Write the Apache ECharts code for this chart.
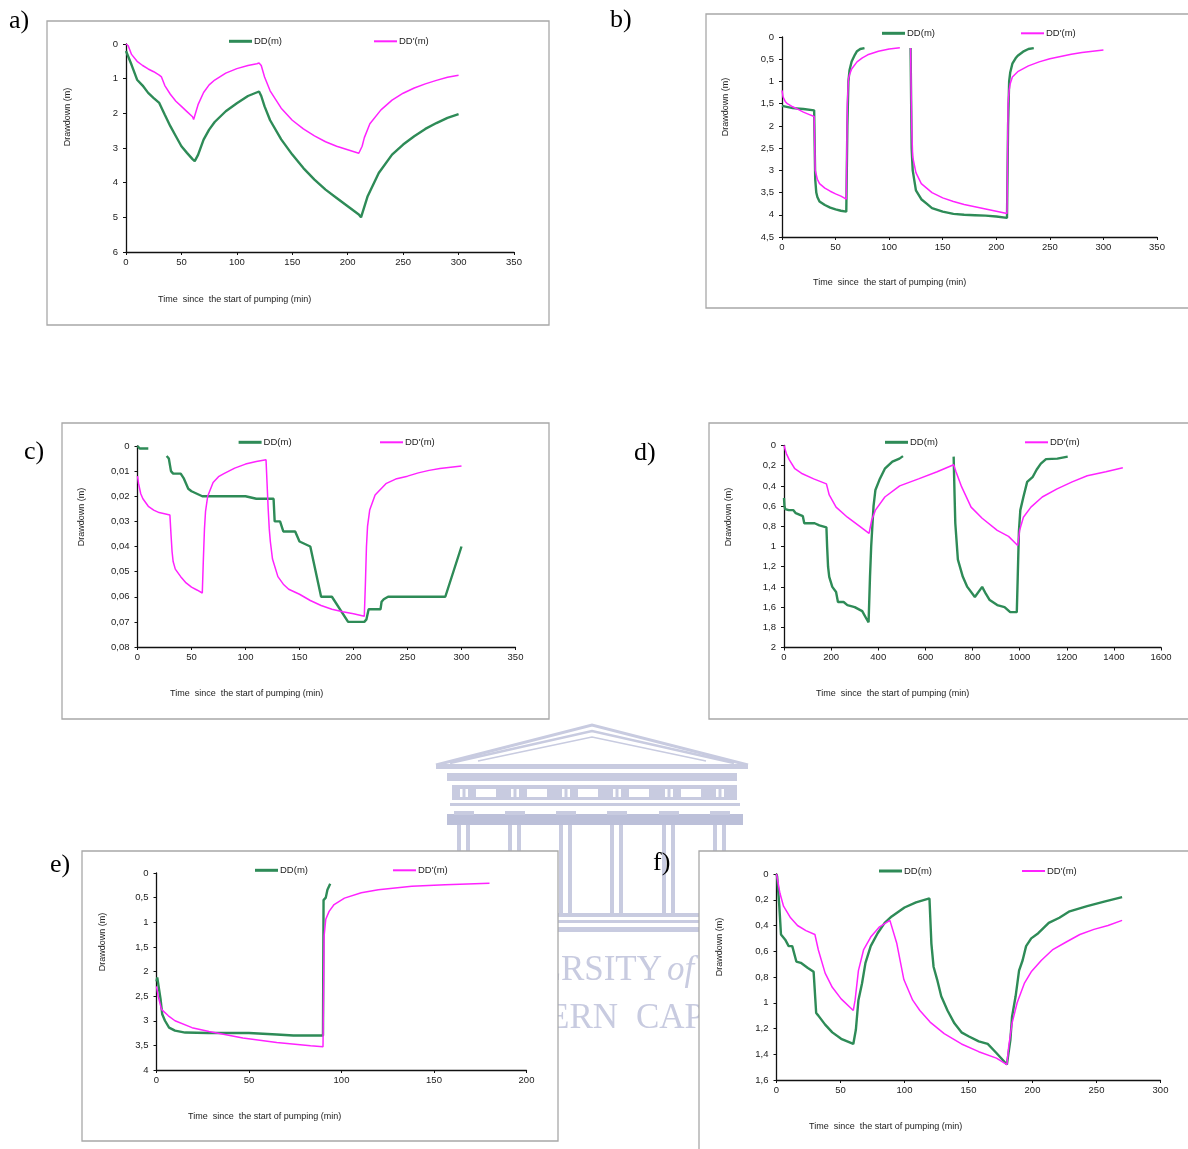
<!DOCTYPE html>
<html><head><meta charset="utf-8">
<script src="https://cdn.jsdelivr.net/npm/echarts@6/dist/echarts.min.js"></script>
<style>html,body{margin:0;padding:0;background:#fff}#c{width:1188px;height:1149px}</style>
</head><body><div id="c"></div><script>
// ---------- DATA ----------
const seriesNames = ['DD(m)', "DD'(m)"];
const yTitle = 'Drawdown (m)';
const xTitle = 'Time  since  the start of pumping (min)';
const panelLabels = ['a)', 'b)', 'c)', 'd)', 'e)', 'f)'];

// a)
const aTimeDD = [0,5,10,15,20,25,30,35,40,45,50,55,60,62,65,70,75,80,90,100,110,120,122,125,130,140,150,160,170,180,190,200,210,212,218,228,240,250,260,270,280,290,300];
const aDD     = [0.2,0.6,1.03,1.2,1.41,1.56,1.7,2.04,2.37,2.66,2.95,3.14,3.32,3.38,3.2,2.76,2.47,2.25,1.94,1.71,1.5,1.37,1.5,1.8,2.2,2.75,3.19,3.58,3.91,4.2,4.44,4.68,4.92,5.0,4.39,3.72,3.19,2.9,2.66,2.45,2.28,2.13,2.02];
const aTimeDDp = [0,2,5,10,15,20,25,30,32,35,40,45,50,55,60,61,65,70,75,80,90,100,110,118,120,122,125,130,140,150,160,170,180,190,200,210,211,213,215,220,230,240,250,260,270,280,290,300];
const aDDp     = [0,0.05,0.3,0.5,0.62,0.72,0.8,0.9,0.95,1.2,1.45,1.65,1.8,1.95,2.1,2.18,1.75,1.4,1.18,1.04,0.84,0.71,0.62,0.57,0.55,0.62,0.95,1.35,1.85,2.2,2.45,2.65,2.82,2.95,3.05,3.15,3.17,2.95,2.7,2.3,1.9,1.62,1.42,1.27,1.15,1.05,0.96,0.9];

// b)
const bTimeDD = [0,1,10,20,30,31,32,33,35,40,45,50,55,60,61,62,63,65,68,70,73,77,99,120,121,122,125,130,135,140,150,160,170,180,190,200,210,211,212,213,215,218,220,225,230,235];
const bDD     = [1.55,1.57,1.6,1.62,1.65,3.2,3.5,3.6,3.7,3.78,3.84,3.88,3.91,3.93,2.0,1.0,0.75,0.55,0.4,0.32,0.27,0.25,null,0.25,2.5,3.0,3.45,3.65,3.75,3.85,3.93,3.98,4.0,4.01,4.02,4.04,4.07,2.0,1.0,0.8,0.6,0.48,0.42,0.33,0.27,0.25];
const bTimeDDp = [0,1,3,5,10,15,20,25,30,31,33,35,40,45,50,55,60,61,62,63,65,70,75,80,90,100,110,115,120,121,122,125,130,140,150,160,170,180,190,200,210,211,212,213,215,220,230,240,250,260,270,280,290,300];
const bDDp     = [1.2,1.35,1.45,1.5,1.57,1.63,1.69,1.74,1.79,3.0,3.2,3.3,3.4,3.47,3.53,3.58,3.65,1.5,0.95,0.85,0.72,0.56,0.47,0.4,0.32,0.27,0.24,null,0.25,2.0,2.7,3.05,3.3,3.5,3.62,3.7,3.77,3.82,3.87,3.92,3.97,1.5,1.2,1.05,0.9,0.78,0.65,0.56,0.49,0.44,0.39,0.35,0.32,0.29];

// c)
const cTimeDD = [0,2,10,18,27,29,30,31,33,40,43,45,47,50,55,60,100,110,126,127,132,135,146,150,160,170,180,195,210,212,214,225,226,228,232,285,300];
const cDD     = [0,0.001,0.001,null,0.004,0.005,0.005,0.01,0.011,0.011,0.013,0.015,0.017,0.018,0.019,0.02,0.02,0.021,0.021,0.03,0.03,0.034,0.034,0.038,0.04,0.06,0.06,0.07,0.07,0.069,0.065,0.065,0.062,0.061,0.06,0.06,0.04];
const cTimeDDp = [0,1,3,5,10,15,20,25,30,31,32,33,35,40,45,50,55,60,61,62,63,65,70,75,80,90,100,110,119,120,121,122,123,125,130,135,140,150,160,170,180,190,200,210,211,212,213,215,220,230,240,250,260,270,280,290,300];
const cDDp     = [0.012,0.015,0.019,0.021,0.024,0.0255,0.0265,0.027,0.0275,0.035,0.042,0.046,0.049,0.052,0.0545,0.0562,0.0573,0.0585,0.045,0.033,0.026,0.02,0.0145,0.0122,0.011,0.0088,0.0072,0.0062,0.0055,0.005,0.025,0.033,0.038,0.045,0.052,0.055,0.057,0.059,0.0615,0.0635,0.065,0.066,0.0668,0.0678,0.055,0.04,0.032,0.0255,0.0195,0.015,0.013,0.012,0.0107,0.0097,0.009,0.0085,0.008];

// d)
const dTimeDD = [0,2,5,20,40,50,70,80,86,90,130,150,180,183,187,192,205,221,229,253,269,300,332,351,359,365,370,375,380,388,405,428,460,490,505,600,720,724,727,738,759,778,810,841,857,873,905,936,960,988,992,997,1003,1016,1032,1056,1072,1090,1112,1160,1204];
const dDD     = [0.52,0.6,0.63,0.64,0.64,0.67,0.69,0.7,0.77,0.77,0.77,0.79,0.81,1.0,1.2,1.3,1.4,1.45,1.55,1.55,1.58,1.6,1.64,1.72,1.75,1.3,1.0,0.8,0.6,0.44,0.34,0.23,0.16,0.13,0.105,null,0.11,0.5,0.77,1.13,1.3,1.4,1.5,1.4,1.47,1.53,1.58,1.6,1.65,1.65,1.3,0.85,0.64,0.51,0.36,0.31,0.24,0.18,0.135,0.13,0.11];
const dTimeDDp = [0,10,22,46,78,126,180,192,221,269,316,361,372,388,428,491,571,650,720,730,754,794,841,905,953,992,1000,1016,1048,1096,1159,1223,1287,1366,1438];
const dDDp     = [0,0.08,0.14,0.23,0.28,0.33,0.38,0.49,0.61,0.71,0.79,0.87,0.74,0.64,0.51,0.4,0.33,0.26,0.19,0.26,0.41,0.61,0.72,0.84,0.9,0.99,0.84,0.71,0.61,0.51,0.43,0.36,0.3,0.26,0.22];

// e)
const eTimeDD = [0,0.4,1.3,2.2,3.1,4.6,6.8,10,15.5,28,50,65,74,90,90.3,91.5,92.4,93.9];
const eDD     = [2.2,2.12,2.12,2.56,2.87,3.0,3.14,3.2,3.24,3.25,3.25,3.28,3.3,3.3,0.55,0.5,0.34,0.22];
const eTimeDDp = [0,0.9,2.7,6.4,10,19.2,28.4,46.7,65,83.3,90,90.6,91.5,93.3,96,101.6,110.7,119.9,138,156,180];
const eDDp     = [2.3,2.5,2.77,2.9,3.0,3.14,3.22,3.35,3.44,3.51,3.53,1.28,0.94,0.78,0.64,0.51,0.4,0.34,0.27,0.24,0.21];

// f)
const fTimeDD = [0,0.5,2.2,3.5,6.8,9.5,12.3,15.5,19,24.5,29,31,32.7,38,43.6,50.5,60,62,64,66.8,69.5,73.6,79,84.5,90,100,109,119.5,121,122.7,125.5,128.7,133.6,139,144.5,150,158,165,171.8,180,182.7,184,186.8,189.5,192.3,195,199,204.5,212.7,221,229,242.7,256,270];
const fDD     = [0,0.02,0.25,0.47,0.51,0.56,0.56,0.68,0.69,0.73,0.76,1.08,1.1,1.17,1.23,1.28,1.32,1.21,0.98,0.85,0.69,0.56,0.46,0.38,0.33,0.26,0.22,0.19,0.54,0.72,0.82,0.95,1.06,1.16,1.23,1.26,1.3,1.32,1.39,1.48,1.29,1.11,0.95,0.75,0.67,0.56,0.5,0.46,0.38,0.34,0.29,0.25,0.215,0.18];
const fTimeDDp = [0,0.5,2.7,5.5,11,16.4,23,30,32.7,38,43.6,50.5,60,61.4,64,68,73.6,80.5,88.6,90,94,99.5,106.4,112,120,131,144.5,158,171.8,180,181.4,184,188,193.6,199,207,215.5,226,237,248,259,270];
const fDDp     = [0,0.01,0.15,0.25,0.34,0.4,0.44,0.47,0.59,0.77,0.88,0.97,1.06,0.98,0.75,0.59,0.49,0.41,0.36,0.35,0.54,0.82,0.98,1.06,1.15,1.24,1.32,1.38,1.43,1.48,1.34,1.16,1.0,0.85,0.76,0.67,0.59,0.53,0.47,0.43,0.4,0.36];

// axis scales (min 0, max, interval)
const xScales = [[350,50],[350,50],[350,50],[1600,200],[200,50],[300,50]];
const yScales = [[6,1],[4.5,0.5],[0.08,0.01],[2,0.2],[4,0.5],[1.6,0.2]];

const panelData = [
  [aTimeDD,aDD,aTimeDDp,aDDp],[bTimeDD,bDD,bTimeDDp,bDDp],[cTimeDD,cDD,cTimeDDp,cDDp],
  [dTimeDD,dDD,dTimeDDp,dDDp],[eTimeDD,eDD,eTimeDDp,eDDp],[fTimeDD,fDD,fTimeDDp,fDDp]
];

// ---------- LAYOUT (positions/styles) ----------
const layout = [
  {grid:[126,44,388,208],   box:[47,21,502,304],   lab:[9,8],     legG:[229,42.3], legM:[374,42.3], yt:[68,117],  xt:[158,300]},
  {grid:[782,37,375,200],   box:[706,14,500,294],  lab:[610,7],   legG:[882,34.3], legM:[1021,34.3], yt:[726,107], xt:[813,283]},
  {grid:[137.5,446,378,201],box:[62,423,487,296],  lab:[24,439],  legG:[238.6,443.3], legM:[380,443.3], yt:[82,517], xt:[170,694]},
  {grid:[784,445.5,377,202],box:[709,423,500,296], lab:[634,440], legG:[885,443.3], legM:[1025,443.3], yt:[729,517], xt:[816,694]},
  {grid:[156.5,873,370,197],box:[82,851,476,290],  lab:[50,852],  legG:[255,871.3], legM:[393,871.3], yt:[102.5,942], xt:[188,1117]},
  {grid:[776.5,874,384,206],box:[699,851,520,320], lab:[653,850], legG:[879,872], legM:[1022,872], yt:[720,947], xt:[809,1127]}
];

const GREEN = '#2e8b57', MAGENTA = '#ff22ff', AX = '#111', TXT = '#222';
const SANS = '"Liberation Sans", Arial, sans-serif';
const SERIF = '"Liberation Serif", "Times New Roman", serif';

function pts(t, v) { return t.map((x, i) => [x, v[i] === null ? '-' : v[i]]); }
function comma(v) { return String(+(+v).toFixed(4)).replace('.', ','); }
function plain(v) { return String(+(+v).toFixed(4)); }

const grids = [], xAxes = [], yAxes = [], series = [], legends = [], graphics = [];

// watermark (background building + text)
const WM = '#c8cbe0', WM2 = '#bcc0d9';
graphics.push(
  {type:'polyline', z:-100, shape:{points:[[436,765],[592,725],[748,765]]}, style:{stroke:WM, lineWidth:3, fill:null}},
  {type:'polyline', z:-100, shape:{points:[[450,763],[592,731],[734,763]]}, style:{stroke:WM, lineWidth:2.5, fill:null}},
  {type:'polyline', z:-100, shape:{points:[[478,761],[592,737],[706,761]]}, style:{stroke:WM, lineWidth:1.5, fill:null}},
  {type:'rect', z:-100, shape:{x:436,y:764,width:312,height:5}, style:{fill:WM}},
  {type:'rect', z:-100, shape:{x:447,y:773,width:290,height:8}, style:{fill:WM}},
  {type:'rect', z:-100, shape:{x:452,y:785,width:285,height:15}, style:{fill:WM}},
  {type:'rect', z:-100, shape:{x:450,y:803,width:290,height:3}, style:{fill:WM}},
  {type:'rect', z:-100, shape:{x:447,y:814,width:296,height:11}, style:{fill:WM2}},
  {type:'rect', z:-100, shape:{x:445,y:913,width:300,height:4}, style:{fill:WM}},
  {type:'rect', z:-100, shape:{x:440,y:920,width:310,height:3}, style:{fill:WM}},
  {type:'rect', z:-100, shape:{x:436,y:927,width:318,height:5}, style:{fill:WM}}
);
[457,508,559,610,662,713].forEach(function (cx, k) {
  graphics.push({type:'rect', z:-99, shape:{x:cx+3,y:789,width:2.5,height:8}, style:{fill:'#fff'}});
  graphics.push({type:'rect', z:-99, shape:{x:cx+8.5,y:789,width:2.5,height:8}, style:{fill:'#fff'}});
  if (k < 5) graphics.push({type:'rect', z:-99, shape:{x:cx+19,y:789,width:20,height:8}, style:{fill:'#fff'}});
  graphics.push({type:'rect', z:-100, shape:{x:cx-3,y:811,width:20,height:4}, style:{fill:WM}});
  graphics.push({type:'rect', z:-100, shape:{x:cx,y:825,width:4,height:88}, style:{fill:WM}});
  graphics.push({type:'rect', z:-100, shape:{x:cx+9,y:825,width:4,height:88}, style:{fill:WM}});
});
graphics.push(
  {type:'text', z:-100, x:662, y:971, style:{text:'UNIVERSITY', font:'35px ' + SERIF, fill:WM, align:'right', verticalAlign:'middle'}},
  {type:'text', z:-100, x:667, y:971, style:{text:'of the', font:'italic 35px ' + SERIF, fill:WM, align:'left', verticalAlign:'middle'}},
  {type:'text', z:-100, x:618, y:1019, style:{text:'WESTERN', font:'35px ' + SERIF, fill:WM, align:'right', verticalAlign:'middle'}},
  {type:'text', z:-100, x:636, y:1019, style:{text:'CAPE', font:'35px ' + SERIF, fill:WM, align:'left', verticalAlign:'middle'}}
);

layout.forEach(function (L, i) {
  const [t1, v1, t2, v2] = panelData[i];
  grids.push({left:L.grid[0], top:L.grid[1], width:L.grid[2], height:L.grid[3], containLabel:false});
  xAxes.push({
    type:'value', gridIndex:i, min:0, max:xScales[i][0], interval:xScales[i][1],
    axisLine:{onZero:false, lineStyle:{color:AX, width:1.3}},
    axisTick:{show:true, length:3, lineStyle:{color:AX, width:1}},
    axisLabel:{fontSize:9.5, color:TXT, margin:5, fontFamily:SANS, formatter:plain},
    splitLine:{show:false}
  });
  yAxes.push({
    type:'value', gridIndex:i, min:0, max:yScales[i][0], interval:yScales[i][1], inverse:true,
    axisLine:{show:true, onZero:false, lineStyle:{color:AX, width:1.3}},
    axisTick:{show:true, length:3, lineStyle:{color:AX, width:1}},
    axisLabel:{fontSize:9.5, color:TXT, margin:8, fontFamily:SANS, formatter:comma},
    splitLine:{show:false}
  });
  series.push({type:'line', name:seriesNames[0], xAxisIndex:i, yAxisIndex:i, data:pts(t1, v1),
    showSymbol:false, symbol:'none', connectNulls:false, animation:false, z:2,
    lineStyle:{color:GREEN, width:2.4}, itemStyle:{color:GREEN}});
  series.push({type:'line', name:seriesNames[1], xAxisIndex:i, yAxisIndex:i, data:pts(t2, v2),
    showSymbol:false, symbol:'none', connectNulls:false, animation:false, z:3,
    lineStyle:{color:MAGENTA, width:1.5}, itemStyle:{color:MAGENTA}});
  [[seriesNames[0], L.legG, 3], [seriesNames[1], L.legM, 2]].forEach(function (it) {
    legends.push({data:[it[0]], left:it[1][0], top:it[1][1] - 6, padding:0, icon:'rect',
      itemWidth:23, itemHeight:it[2], itemGap:0, selectedMode:false,
      textStyle:{fontSize:9.5, color:TXT, fontFamily:SANS, padding:[0,0,0,-3]}});
  });
  // panel box
  graphics.push({type:'rect', z:-50, shape:{x:L.box[0], y:L.box[1], width:L.box[2], height:L.box[3]},
    style:{fill:'#fff', stroke:'#a8a8a8', lineWidth:1.3}});
  // panel label
  graphics.push({type:'text', z:10, x:L.lab[0], y:L.lab[1],
    style:{text:panelLabels[i], font:'26px ' + SERIF, fill:'#000', align:'left', verticalAlign:'top'}});
  // axis titles
  graphics.push({type:'text', z:10, x:L.yt[0], y:L.yt[1], rotation:Math.PI / 2,
    style:{text:yTitle, font:'9px ' + SANS, fill:TXT, align:'center', verticalAlign:'middle'}});
  graphics.push({type:'text', z:10, x:L.xt[0], y:L.xt[1],
    style:{text:xTitle, font:'9px ' + SANS, fill:TXT, align:'left', verticalAlign:'middle'}});
});

const chart = echarts.init(document.getElementById('c'), null, {renderer:'canvas'});
chart.setOption({
  backgroundColor:'#fff',
  animation:false,
  grid:grids, xAxis:xAxes, yAxis:yAxes, series:series, legend:legends,
  graphic:{elements:graphics}
});
</script></body></html>
